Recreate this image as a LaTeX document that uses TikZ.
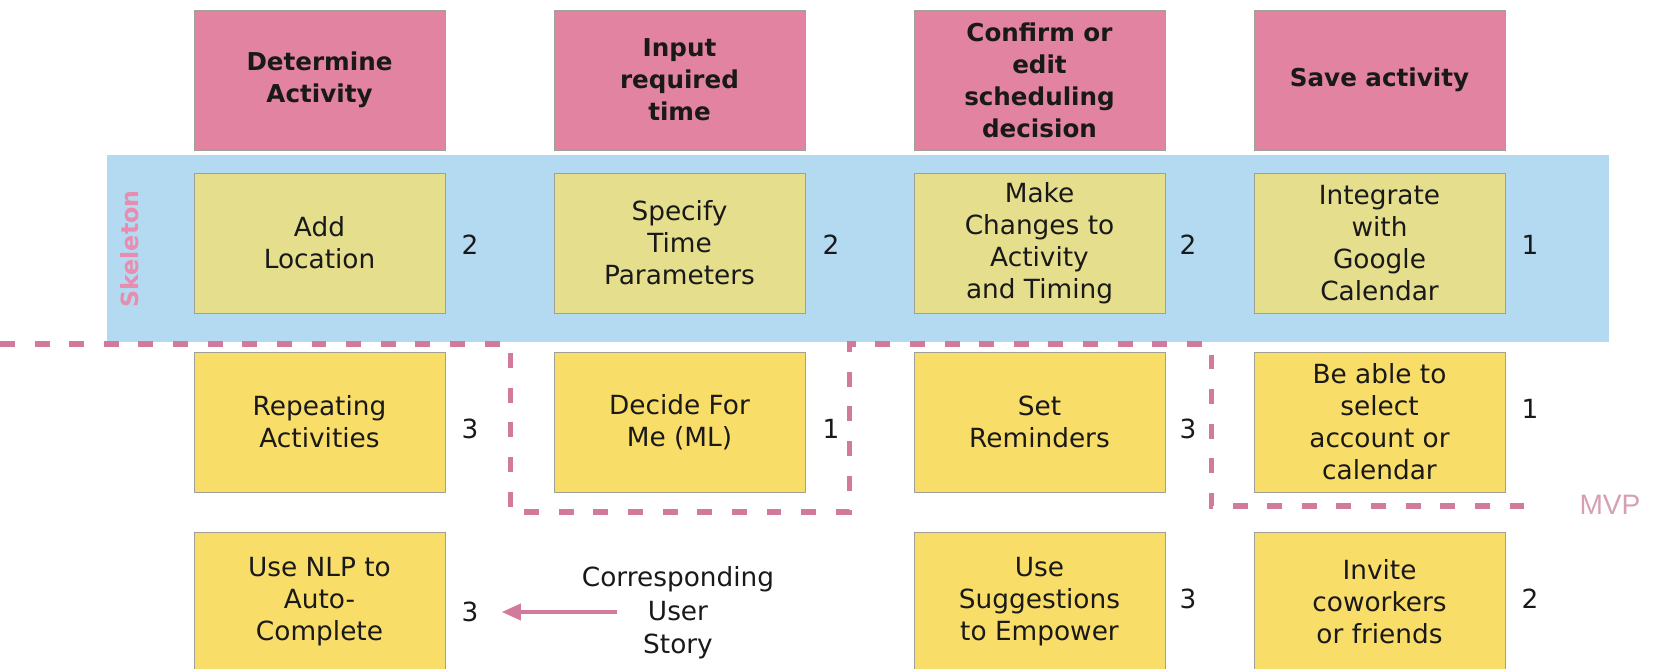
\documentclass[tikz,border=0pt]{standalone}
\usepackage{fontspec}
\setmainfont{DejaVu Sans}
\newfontfamily\mvpfont{Liberation Sans}
\usetikzlibrary{arrows.meta}

\definecolor{headpink}{RGB}{227,131,162}
\definecolor{bandblue}{RGB}{179,218,240}
\definecolor{skelyellow}{RGB}{229,222,140}
\definecolor{storyyellow}{RGB}{249,221,105}
\definecolor{cutpink}{RGB}{210,122,156}
\definecolor{skelpink}{RGB}{232,141,176}
\definecolor{mvppink}{RGB}{214,160,180}
\definecolor{cardedge}{RGB}{160,160,150}

\tikzset{
  card/.style={draw=cardedge,line width=0.5pt,minimum width=5.02cm,minimum height=2.8cm,
    inner sep=0pt,align=center,text=black!90,font=\fontsize{15}{18.2}\selectfont},
  activity/.style={card,fill=headpink,font=\fontsize{14}{18.2}\selectfont\bfseries},
  skelcard/.style={card,fill=skelyellow},
  storycard/.style={card,fill=storyyellow},
  est/.style={inner sep=0pt,text=black!90,font=\fontsize{15}{18}\selectfont},
  mvpline/.style={cutpink,line width=2.85pt,dash pattern=on 8.5pt off 11.2pt}
}

\begin{document}
\begin{tikzpicture}[x=0.02cm,y=-0.02cm]
\useasboundingbox (0,0) rectangle (1654,669);
% skeleton band
\fill [bandblue] (107,155) rectangle (1609,342);
\node [rotate=90,text=skelpink,font=\fontsize{13.5}{14}\selectfont\bfseries] (skel) at (130,249) {Skeleton};
% activities
\node [activity] (a1) at (319.5,80) {Determine\\Activity};
\node [activity] (a2) at (679.5,80) {Input\\required\\time};
\node [activity] (a3) at (1039.5,80) {Confirm or\\edit\\scheduling\\decision};
\node [activity] (a4) at (1379.5,80) {Save activity};
% skeleton stories
\node [skelcard] (s1) at (319.5,243) {Add\\Location};
\node [skelcard] (s2) at (679.5,243) {Specify\\Time\\Parameters};
\node [skelcard] (s3) at (1039.5,243) {Make\\Changes to\\Activity\\and Timing};
\node [skelcard] (s4) at (1379.5,243) {Integrate\\with\\Google\\Calendar};
\node [est] (e1) at (470,245) {2};
\node [est] (e2) at (831,245) {2};
\node [est] (e3) at (1188,245) {2};
\node [est] (e4) at (1530,245) {1};
% second row
\node [storycard] (r1) at (319.5,422) {Repeating\\Activities};
\node [storycard] (r2) at (679.5,422) {Decide For\\Me (ML)};
\node [storycard] (r3) at (1039.5,422) {Set\\Reminders};
\node [storycard] (r4) at (1379.5,422) {Be able to\\select\\account or\\calendar};
\node [est] (f1) at (470,429) {3};
\node [est] (f2) at (831,429) {1};
\node [est] (f3) at (1188,429) {3};
\node [est] (f4) at (1530,409) {1};
% third row
\node [storycard] (u1) at (319.5,602) {Use NLP to\\Auto-\\Complete};
\node [storycard] (u3) at (1039.5,602) {Use\\Suggestions\\to Empower};
\node [storycard] (u4) at (1379.5,602) {Invite\\coworkers\\or friends};
\node [est] (g1) at (470,612) {3};
\node [est] (g3) at (1188,599) {3};
\node [est] (g4) at (1530,599) {2};
% legend
\node [est,align=center,font=\fontsize{15}{19}\selectfont] (legend) at (678,613) {Corresponding\\User\\Story};
\coordinate (legendtail) at (617,612);
\draw [cutpink,line width=2.5pt,-{Triangle[length=11pt,width=9pt]},shorten >=13pt] (legendtail) -- (g1.east);
% MVP cut line
\draw [mvpline] (0,344) -- (510,344) -- (510,512) -- (849,512) -- (849,344)
  -- (1211,344) -- (1211,506) -- (1538,506);
\node [text=mvppink,inner sep=0pt,font=\mvpfont\fontsize{16}{16}\selectfont] (mvp) at (1610,505) {MVP};
\end{tikzpicture}
\end{document}
